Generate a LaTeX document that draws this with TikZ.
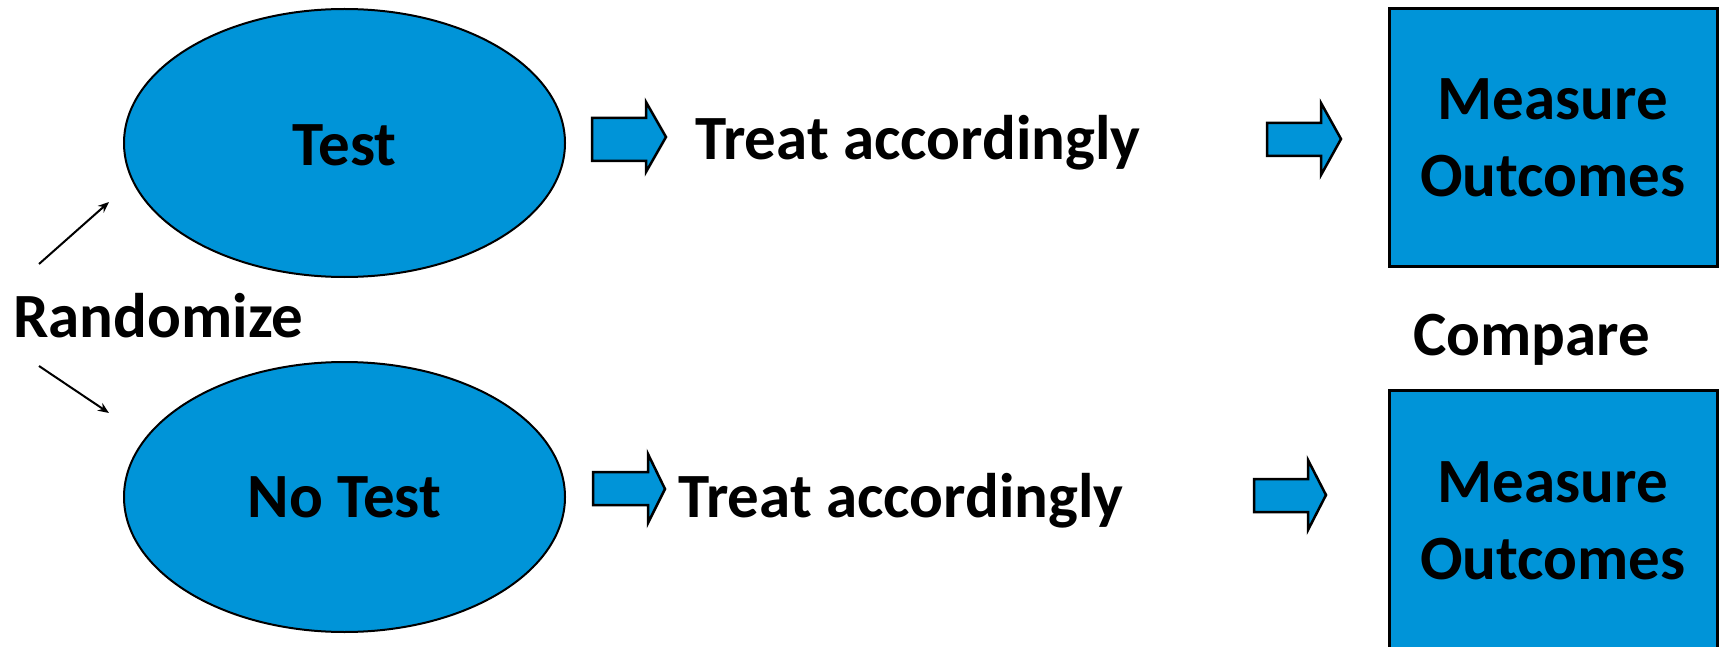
\documentclass[tikz,border=0pt]{standalone}
\usepackage{fontspec}
\setmainfont{Carlito}
\usetikzlibrary{arrows.meta,shapes.geometric}
\definecolor{boxblue}{RGB}{0,148,216}
\tikzset{
  big/.style={font=\fontsize{63}{77}\selectfont\bfseries, text=black},
  oval/.style={ellipse, draw=black, line width=2pt, fill=boxblue, inner sep=0pt, big},
  outbox/.style={rectangle, draw=black, line width=3pt, fill=boxblue, inner sep=0pt, align=center, big},
  blockarrow/.style={draw=black, line width=2.5pt, fill=boxblue, line join=miter},
  thin/.style={draw=black, line width=2pt, -{Stealth[length=11pt,width=9pt]}},
  label/.style={big, inner sep=0pt}
}
\begin{document}
\begin{tikzpicture}[x=1pt,y=-1pt]
\useasboundingbox (0,0) rectangle (1721,647);
% ovals
\node[oval, minimum width=441pt, minimum height=268pt] (test) at (344.5,143) {};
\node[big, anchor=base] (testlbl) at (344.5,166) {Test};
\node[oval, minimum width=441pt, minimum height=270pt] (notest) at (344.5,497) {No Test};
% randomize
\node[label, anchor=base west] (rand) at (13,337) {Randomize};
\coordinate (u0) at (39,264);
\coordinate (u1) at (109,202);
\coordinate (l0) at (39,366);
\coordinate (l1) at (109,413);
\draw[thin] (u0) -- (u1);
\draw[thin] (l0) -- (l1);
% block arrows
\draw[blockarrow] (592,118)--(646,118)--(646,102)--(666,137)--(646,172)--(646,161)--(592,161)--cycle;
\draw[blockarrow] (1267,123)--(1321,123)--(1321,103)--(1341,139)--(1321,175)--(1321,156)--(1267,156)--cycle;
\draw[blockarrow] (593,472)--(648,472)--(648,454)--(665,489)--(648,523)--(648,505)--(593,505)--cycle;
\draw[blockarrow] (1254,479)--(1308,479)--(1308,460)--(1326,495)--(1308,530)--(1308,512)--(1254,512)--cycle;
% treat texts
\node[label, anchor=base west] (treat1) at (695,160) {Treat accordingly};
\node[label, anchor=base west] (treat2) at (678,517) {Treat accordingly};
% outcome boxes
\node[outbox, minimum width=328pt, minimum height=257pt] (meas1) at (1553,137.5) {Measure\\Outcomes};
\node[outbox, minimum width=328pt, minimum height=261pt] (meas2) at (1553,521) {Measure\\Outcomes};
\node[label, anchor=base west] (cmp) at (1413,355) {Compare};
\end{tikzpicture}
\end{document}
